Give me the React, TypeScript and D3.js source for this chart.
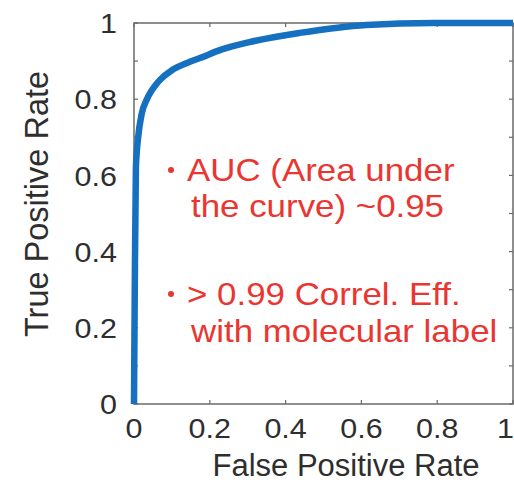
import React from "react";
import * as d3 from "d3";

const fprValues = [0, 0.002, 0.005, 0.011, 0.02, 0.034, 0.048, 0.068, 0.1, 0.14, 0.174, 0.23, 0.305, 0.437, 0.613, 0.79, 1];
const tprValues = [0, 0.3, 0.62, 0.7, 0.76, 0.8, 0.825, 0.85, 0.876, 0.895, 0.908, 0.93, 0.95, 0.974, 0.995, 1.0, 1.0];
const xTickValues = [0, 0.2, 0.4, 0.6, 0.8, 1];
const xTickLabels = ["0", "0.2", "0.4", "0.6", "0.8", "1"];
const yTickValues = [0, 0.1, 0.2, 0.3, 0.4, 0.5, 0.6, 0.7, 0.8, 0.9, 1];
const yLabelValues = [0, 0.2, 0.4, 0.6, 0.8, 1];
const yTickLabels = ["0", "0.2", "0.4", "0.6", "0.8", "1"];
const noteLines = [
  { bullet: true, text: "AUC (Area under" },
  { bullet: false, text: "the curve) ~0.95" },
  { bullet: true, text: "> 0.99 Correl. Eff." },
  { bullet: false, text: "with molecular label" },
];

const W = 514;
const H = 484;
const L = 134;
const R = 513;
const T = 23;
const B = 404;
const FONT = "'Liberation Sans', Arial, sans-serif";
const AXIS = "#6a6a6a";
const TXT = "#2e2e2e";
const RED = "#ea3530";
const BLUE = "#1570c0";

export default function App() {
  const x = d3.scaleLinear().domain([0, 1]).range([L, R]);
  const y = d3.scaleLinear().domain([0, 1]).range([B, T]);
  const pts = fprValues.map((f, i) => [f, tprValues[i]] as [number, number]);
  const line = d3
    .line<[number, number]>()
    .x((d) => x(d[0]))
    .y((d) => y(d[1]))
    .curve(d3.curveMonotoneX);
  const tk = 4;
  const noteY = [181, 217, 305, 342];
  const sx = 1.07;
  return (
    <svg width={W} height={H} style={{ position: "absolute", left: 0, top: 0, background: "#fff" }}>
      <rect x={0} y={0} width={W} height={H} fill="#fff" />
      <rect x={L} y={T} width={R - L} height={B - T} fill="none" stroke={AXIS} strokeWidth={1.5} />
      {xTickValues.map((v) => (
        <g key={"xt" + v}>
          <line x1={x(v)} x2={x(v)} y1={B} y2={B - tk} stroke={AXIS} strokeWidth={1.2} />
          <line x1={x(v)} x2={x(v)} y1={T} y2={T + tk} stroke={AXIS} strokeWidth={1.2} />
        </g>
      ))}
      {yTickValues.map((v) => (
        <g key={"yt" + v}>
          <line x1={L} x2={L + tk} y1={y(v)} y2={y(v)} stroke={AXIS} strokeWidth={1.2} />
          <line x1={R} x2={R - tk} y1={y(v)} y2={y(v)} stroke={AXIS} strokeWidth={1.2} />
        </g>
      ))}
      <path d={line(pts) || ""} fill="none" stroke={BLUE} strokeWidth={6.5} strokeLinejoin="round" />
      {xTickValues.map((v, i) => {
        const last = i === xTickValues.length - 1;
        return (
          <g key={"xl" + v} transform={`translate(${last ? W : x(v)},438) scale(${sx},1)`}>
            <text textAnchor={last ? "end" : "middle"} fontFamily={FONT} fontSize={28.5} fill={TXT}>
              {xTickLabels[i]}
            </text>
          </g>
        );
      })}
      {yLabelValues.map((v, i) => (
        <g key={"yl" + v} transform={`translate(117,${y(v)}) scale(${sx},1)`}>
          <text dy="0.36em" textAnchor="end" fontFamily={FONT} fontSize={28.5} fill={TXT}>
            {yTickLabels[i]}
          </text>
        </g>
      ))}
      <text x={346} y={476} textAnchor="middle" fontFamily={FONT} fontSize={31} fill={TXT}>
        False Positive Rate
      </text>
      <text
        transform={`translate(48,204) rotate(-90)`}
        textAnchor="middle"
        fontFamily={FONT}
        fontSize={32.5}
        fill={TXT}
      >
        True Positive Rate
      </text>
      {noteLines.map((n, i) => (
        <g key={"n" + i}>
          {n.bullet && <circle cx={171} cy={noteY[i] - 11} r={3} fill={RED} />}
          <g transform={`translate(${n.bullet ? 187 : 191},${noteY[i]}) scale(1.09,1)`}>
            <text fontFamily={FONT} fontSize={32} fill={RED}>
              {n.text}
            </text>
          </g>
        </g>
      ))}
    </svg>
  );
}
